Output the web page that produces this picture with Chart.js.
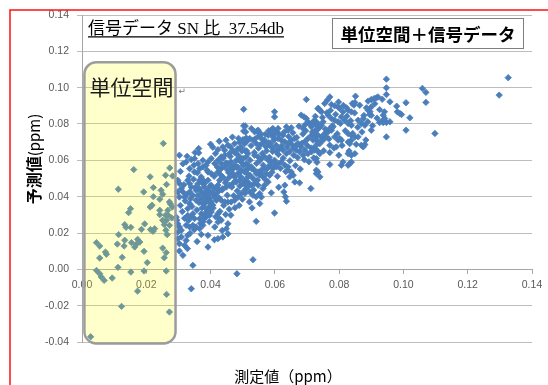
<!DOCTYPE html>
<html>
<head>
<meta charset="utf-8">
<script src="https://cdn.jsdelivr.net/npm/chart.js@4.4.0/dist/chart.umd.min.js"></script>
<style>
  html, body { margin: 0; padding: 0; background: #ffffff; overflow: hidden; }
  canvas { display: block; }
</style>
</head>
<body>
<canvas id="chart" width="548" height="385"></canvas>
<script>
// Axis ranges and tick step (ppm)
const xRange = [0, 0.14];
const yRange = [-0.04, 0.14];
const tickStep = 0.02;

// Texts
const chartTitle = '信号データ SN 比  37.54db';
const legendLabel = '単位空間＋信号データ';
const regionLabel = '単位空間';
const xAxisTitle = '測定値（ppm）';
const yAxisTitleMain = '予測値';
const yAxisTitleUnit = '(ppm)';

// Unit-space region (measured value range and predicted value range)
const unitSpaceX = [0.00075, 0.0291];
const unitSpaceY = [-0.0408, 0.1140];

// [measured, predicted] — unit space samples
const unitSpacePoints = [
  [0.0253,0.0693],[0.0161,0.0549],[0.0273,0.0558],[0.0282,0.0514],[0.0113,0.0441],[0.0212,0.0509],
  [0.0222,0.0450],[0.0263,0.0467],[0.0192,0.0426],[0.0222,0.0400],[0.0242,0.0386],[0.0275,0.0360],
  [0.0281,0.0343],[0.0151,0.0334],[0.0145,0.0312],[0.0212,0.0343],[0.0218,0.0353],[0.0242,0.0325],
  [0.0242,0.0301],[0.0268,0.0298],[0.0279,0.0283],[0.0263,0.0270],[0.0256,0.0246],[0.0272,0.0242],
  [0.0133,0.0246],[0.0137,0.0231],[0.0152,0.0231],[0.0195,0.0250],[0.0185,0.0220],[0.0221,0.0209],
  [0.0213,0.0219],[0.0261,0.0215],[0.0265,0.0191],[0.0114,0.0191],[0.0173,0.0165],[0.0180,0.0150],
  [0.0169,0.0138],[0.0164,0.0123],[0.0133,0.0160],[0.0131,0.0128],[0.0154,0.0147],[0.0110,0.0139],
  [0.0045,0.0147],[0.0055,0.0128],[0.0073,0.0095],[0.0076,0.0083],[0.0055,0.0062],[0.0125,0.0066],
  [0.0193,0.0099],[0.0251,0.0117],[0.0262,0.0092],[0.0256,0.0064],[0.0203,0.0037],[0.0112,0.0011],
  [0.0045,-0.0006],[0.0055,-0.0024],[0.0060,-0.0042],[0.0069,-0.0061],[0.0094,-0.0048],[0.0152,-0.0015],
  [0.0193,-0.0009],[0.0262,-0.0009],[0.0173,-0.0120],[0.0263,-0.0138],[0.0123,-0.0204],[0.0272,-0.0235],
  [0.0027,-0.0371],[0.0260,0.0518],[0.0246,0.0435],[0.0251,0.0413],[0.0272,0.0371],[0.0267,0.0325],
  [0.0260,0.0298],[0.0251,0.0270],[0.0226,0.0224]
];

// [measured, predicted] — signal samples
const signalPoints = [
  [0.0503,0.0881],[0.0503,0.0790],[0.0509,0.0756],[0.0511,0.0723],[0.0501,0.0714],[0.0400,0.0689],
  [0.0363,0.0665],[0.0363,0.0641],[0.0303,0.0628],[0.0423,0.0659],[0.0415,0.0637],[0.0438,0.0674],
  [0.0444,0.0655],[0.0454,0.0683],[0.0462,0.0674],[0.0469,0.0655],[0.0459,0.0637],[0.0444,0.0628],
  [0.0433,0.0619],[0.0480,0.0637],[0.0490,0.0619],[0.0501,0.0610],[0.0511,0.0619],[0.0516,0.0637],
  [0.0324,0.0591],[0.0340,0.0604],[0.0348,0.0573],[0.0335,0.0554],[0.0350,0.0536],[0.0366,0.0554],
  [0.0376,0.0564],[0.0386,0.0573],[0.0392,0.0536],[0.0402,0.0527],[0.0412,0.0518],[0.0423,0.0536],
  [0.0433,0.0554],[0.0444,0.0564],[0.0454,0.0582],[0.0464,0.0591],[0.0475,0.0573],[0.0485,0.0564],
  [0.0495,0.0545],[0.0506,0.0536],[0.0516,0.0554],[0.0298,0.0490],[0.0303,0.0472],[0.0309,0.0444],
  [0.0314,0.0426],[0.0298,0.0426],[0.0303,0.0398],[0.0319,0.0398],[0.0329,0.0490],[0.0335,0.0472],
  [0.0340,0.0453],[0.0335,0.0426],[0.0345,0.0407],[0.0355,0.0435],[0.0361,0.0472],[0.0366,0.0490],
  [0.0371,0.0508],[0.0376,0.0472],[0.0381,0.0453],[0.0386,0.0426],[0.0392,0.0407],[0.0386,0.0380],
  [0.0376,0.0362],[0.0381,0.0343],[0.0392,0.0325],[0.0371,0.0306],[0.0366,0.0279],[0.0376,0.0260],
  [0.0386,0.0288],[0.0397,0.0297],[0.0402,0.0316],[0.0418,0.0417],[0.0428,0.0435],[0.0438,0.0444],
  [0.0449,0.0453],[0.0459,0.0463],[0.0469,0.0472],[0.0480,0.0481],[0.0490,0.0490],[0.0501,0.0472],
  [0.0511,0.0463],[0.0506,0.0435],[0.0495,0.0417],[0.0485,0.0398],[0.0475,0.0380],[0.0464,0.0371],
  [0.0454,0.0371],[0.0444,0.0371],[0.0433,0.0380],[0.0423,0.0306],[0.0428,0.0279],[0.0423,0.0260],
  [0.0433,0.0270],[0.0335,0.0362],[0.0329,0.0334],[0.0329,0.0297],[0.0340,0.0288],[0.0345,0.0306],
  [0.0350,0.0279],[0.0303,0.0233],[0.0309,0.0215],[0.0298,0.0205],[0.0324,0.0242],[0.0335,0.0233],
  [0.0345,0.0242],[0.0355,0.0233],[0.0366,0.0224],[0.0376,0.0242],[0.0454,0.0251],[0.0449,0.0224],
  [0.0454,0.0196],[0.0438,0.0178],[0.0423,0.0169],[0.0412,0.0163],[0.0293,0.0288],[0.0295,0.0270],
  [0.0298,0.0251],[0.0329,0.0187],[0.0324,0.0159],[0.0319,0.0132],[0.0328,0.0114],[0.0314,0.0077],
  [0.0303,0.0141],[0.0298,0.0169],[0.0309,0.0178],[0.0392,0.0187],[0.0392,0.0123],[0.0345,0.0022],
  [0.0482,-0.0024],[0.0340,-0.0107],
  [0.0366,0.0444],[0.0376,0.0417],[0.0386,0.0398],[0.0397,0.0389],[0.0402,0.0371],[0.0407,0.0353],
  [0.0397,0.0344],[0.0381,0.0362],[0.0371,0.0389],[0.0361,0.0407],[0.0355,0.0380],[0.0412,0.0398],
  [0.0418,0.0380],[0.0407,0.0417],[0.0392,0.0435],[0.0381,0.0472],[0.0392,0.0490],[0.0402,0.0463],
  [0.0412,0.0444],[0.0423,0.0463],[0.0428,0.0490],[0.0438,0.0508],[0.0449,0.0490],[0.0459,0.0508],
  [0.0469,0.0527],[0.0475,0.0508],[0.0485,0.0527],[0.0495,0.0508],[0.0506,0.0490],[0.0516,0.0508],
  [0.0413,0.0582],[0.0423,0.0600],[0.0402,0.0610],[0.0392,0.0591],[0.0376,0.0600],[0.0361,0.0582],
  [0.0350,0.0610],[0.0433,0.0582],[0.0454,0.0545],[0.0464,0.0564],[0.0480,0.0600],[0.0495,0.0591],
  [0.0511,0.0582],[0.0506,0.0655],[0.0495,0.0674],[0.0485,0.0664],[0.0475,0.0692],[0.0490,0.0700],
  [0.0506,0.0692],
  [0.0698,0.0935],[0.0736,0.0885],[0.0599,0.0867],[0.0599,0.0839],[0.0682,0.0849],[0.0691,0.0839],
  [0.0698,0.0830],[0.0703,0.0812],[0.0693,0.0794],[0.0688,0.0775],[0.0636,0.0784],[0.0641,0.0766],
  [0.0651,0.0779],[0.0527,0.0775],[0.0537,0.0757],[0.0548,0.0766],[0.0553,0.0738],[0.0558,0.0720],
  [0.0568,0.0711],[0.0579,0.0738],[0.0589,0.0748],[0.0594,0.0729],[0.0605,0.0757],[0.0610,0.0720],
  [0.0620,0.0711],[0.0625,0.0738],[0.0631,0.0702],[0.0641,0.0693],[0.0651,0.0711],[0.0662,0.0720],
  [0.0667,0.0683],[0.0672,0.0693],[0.0682,0.0674],[0.0693,0.0702],[0.0703,0.0720],[0.0714,0.0738],
  [0.0719,0.0711],[0.0729,0.0729],[0.0734,0.0693],[0.0724,0.0665],[0.0714,0.0647],[0.0703,0.0637],
  [0.0693,0.0656],[0.0688,0.0628],[0.0677,0.0647],[0.0667,0.0656],[0.0657,0.0665],[0.0646,0.0647],
  [0.0636,0.0637],[0.0625,0.0656],[0.0615,0.0665],[0.0605,0.0647],[0.0594,0.0665],[0.0584,0.0683],
  [0.0573,0.0674],[0.0563,0.0693],[0.0553,0.0683],[0.0542,0.0693],[0.0532,0.0711],[0.0522,0.0720],
  [0.0511,0.0702],[0.0537,0.0628],[0.0548,0.0619],[0.0558,0.0610],[0.0568,0.0619],[0.0579,0.0601],
  [0.0589,0.0591],[0.0599,0.0601],[0.0610,0.0582],[0.0620,0.0591],[0.0631,0.0573],[0.0641,0.0564],
  [0.0605,0.0564],[0.0594,0.0555],[0.0584,0.0573],[0.0568,0.0555],[0.0558,0.0546],[0.0548,0.0536],
  [0.0537,0.0546],[0.0527,0.0564],[0.0516,0.0573],[0.0511,0.0546],[0.0522,0.0518],[0.0532,0.0500],
  [0.0542,0.0527],[0.0553,0.0518],[0.0563,0.0509],[0.0573,0.0527],[0.0584,0.0518],[0.0579,0.0481],
  [0.0568,0.0463],[0.0563,0.0445],[0.0548,0.0463],[0.0537,0.0472],[0.0527,0.0463],[0.0516,0.0481],
  [0.0511,0.0445],[0.0522,0.0426],[0.0532,0.0408],[0.0542,0.0399],[0.0553,0.0417],[0.0662,0.0481],
  [0.0677,0.0476],[0.0712,0.0445],[0.0729,0.0546],[0.0729,0.0527],[0.0631,0.0463],[0.0628,0.0426],
  [0.0633,0.0399],[0.0636,0.0375],[0.0521,0.0371],[0.0553,0.0362],[0.0599,0.0310],[0.0542,0.0264],
  [0.0532,0.0053],[0.0651,0.0536],[0.0646,0.0509],[0.0657,0.0518],[0.0641,0.0546],[0.0719,0.0812],
  [0.0729,0.0794],[0.0736,0.0775],[0.0714,0.0784],[0.0724,0.0757],[0.0594,0.0775],[0.0610,0.0775],
  [0.0487,0.0721],[0.0518,0.0715],[0.0544,0.0761],[0.0550,0.0733],[0.0570,0.0743],[0.0591,0.0770],
  [0.0600,0.0743],[0.0581,0.0697],[0.0508,0.0789],[0.0503,0.0761],
  [0.0947,0.1047],[0.0947,0.0999],[0.0947,0.0962],[0.0851,0.0953],[0.0849,0.0918],[0.0846,0.0904],
  [0.0771,0.0949],[0.0763,0.0931],[0.0755,0.0913],[0.0890,0.0926],[0.0900,0.0935],[0.0909,0.0940],
  [0.0916,0.0944],[0.0921,0.0949],[0.0776,0.0907],[0.0786,0.0900],[0.0797,0.0893],[0.0802,0.0885],
  [0.0734,0.0885],[0.0740,0.0876],[0.0745,0.0867],[0.0823,0.0889],[0.0828,0.0876],[0.0838,0.0867],
  [0.0812,0.0867],[0.0885,0.0889],[0.0890,0.0876],[0.0895,0.0852],[0.0900,0.0848],[0.0937,0.0848],
  [0.0942,0.0830],[0.0937,0.0821],[0.0926,0.0808],[0.0937,0.0808],[0.0947,0.0808],[0.0900,0.0766],
  [0.0947,0.0729],[0.0724,0.0821],[0.0734,0.0803],[0.0745,0.0793],[0.0750,0.0812],[0.0740,0.0784],
  [0.0729,0.0766],[0.0766,0.0848],[0.0776,0.0830],[0.0786,0.0821],[0.0797,0.0812],[0.0807,0.0839],
  [0.0817,0.0821],[0.0828,0.0803],[0.0838,0.0793],[0.0859,0.0821],[0.0869,0.0803],[0.0875,0.0830],
  [0.0880,0.0793],[0.0724,0.0757],[0.0734,0.0738],[0.0745,0.0729],[0.0755,0.0747],[0.0766,0.0757],
  [0.0776,0.0766],[0.0781,0.0784],[0.0771,0.0775],[0.0760,0.0729],[0.0729,0.0711],[0.0740,0.0692],
  [0.0724,0.0674],[0.0750,0.0711],[0.0786,0.0729],[0.0797,0.0711],[0.0802,0.0720],[0.0807,0.0711],
  [0.0828,0.0701],[0.0833,0.0692],[0.0838,0.0711],[0.0828,0.0747],[0.0838,0.0738],[0.0849,0.0729],
  [0.0771,0.0683],[0.0791,0.0674],[0.0724,0.0656],[0.0734,0.0650],[0.0740,0.0637],[0.0729,0.0610],
  [0.0859,0.0729],[0.0869,0.0683],[0.0875,0.0674],[0.0880,0.0687],[0.0849,0.0637],[0.0838,0.0628],
  [0.0828,0.0637],[0.0771,0.0643],[0.0799,0.0628],[0.0833,0.0582],[0.0838,0.0591],[0.0828,0.0573],
  [0.0812,0.0591],[0.0807,0.0573],[0.0771,0.0577],[0.0734,0.0536],[0.0740,0.0509],[0.0900,0.0894],
  [0.0841,0.0913],
  [0.1326,0.1055],[0.1298,0.0959],[0.1059,0.0996],[0.1070,0.0974],[0.1070,0.0919],[0.1008,0.0917],
  [0.0958,0.0922],[0.0979,0.0898],[0.0981,0.0867],[0.0989,0.0858],[0.0994,0.0852],[0.1020,0.0834],
  [0.0958,0.0812],[0.1008,0.0766],[0.1098,0.0748],
  [0.0306,0.0352],[0.0312,0.0318],[0.0317,0.0466],[0.0321,0.0377],[0.0326,0.0412],[0.0331,0.0268],
  [0.0333,0.0513],[0.0338,0.0389],[0.0342,0.0346],[0.0347,0.0496],[0.0349,0.0218],[0.0353,0.0452],
  [0.0357,0.0327],[0.0359,0.0531],[0.0364,0.0368],[0.0368,0.0253],[0.0369,0.0431],[0.0373,0.0338],
  [0.0378,0.0489],[0.0379,0.0297],[0.0383,0.0411],[0.0387,0.0316],[0.0389,0.0546],[0.0394,0.0371],
  [0.0396,0.0262],[0.0399,0.0458],[0.0314,0.0581],[0.0327,0.0622],[0.0352,0.0643],[0.0306,0.0539],
  [0.0319,0.0281],[0.0336,0.0198],[0.0371,0.0192],[0.0358,0.0153],[0.0303,0.0101],[0.0381,0.0281],
  [0.0404,0.0423],[0.0408,0.0337],[0.0411,0.0512],[0.0416,0.0289],[0.0419,0.0448],[0.0421,0.0563],
  [0.0426,0.0394],[0.0429,0.0319],[0.0431,0.0521],[0.0436,0.0437],[0.0439,0.0612],[0.0441,0.0352],
  [0.0446,0.0477],[0.0448,0.0586],[0.0452,0.0408],[0.0456,0.0533],[0.0458,0.0331],[0.0461,0.0621],
  [0.0466,0.0453],[0.0468,0.0549],[0.0472,0.0405],[0.0474,0.0644],[0.0478,0.0488],[0.0481,0.0561],
  [0.0483,0.0432],[0.0487,0.0603],[0.0491,0.0459],[0.0493,0.0537],[0.0497,0.0651],[0.0499,0.0386],
  [0.0413,0.0233],[0.0436,0.0214],[0.0447,0.0302],[0.0463,0.0298],[0.0476,0.0339],[0.0489,0.0352],
  [0.0407,0.0672],[0.0427,0.0705],[0.0448,0.0711],[0.0468,0.0728],
  [0.0502,0.0571],[0.0507,0.0418],[0.0512,0.0652],[0.0514,0.0527],[0.0519,0.0461],[0.0523,0.0601],
  [0.0526,0.0681],[0.0529,0.0552],[0.0534,0.0437],[0.0536,0.0643],[0.0539,0.0719],[0.0543,0.0583],
  [0.0546,0.0491],[0.0549,0.0667],[0.0552,0.0596],[0.0555,0.0748],[0.0557,0.0532],[0.0561,0.0638],
  [0.0564,0.0573],[0.0566,0.0702],[0.0571,0.0493],[0.0574,0.0652],[0.0577,0.0556],[0.0581,0.0763],
  [0.0583,0.0617],[0.0586,0.0693],[0.0591,0.0534],[0.0593,0.0649],[0.0597,0.0712],[0.0601,0.0578],
  [0.0604,0.0683],[0.0608,0.0512],[0.0611,0.0632],[0.0614,0.0744],[0.0617,0.0556],[0.0529,0.0338],
  [0.0558,0.0398],[0.0589,0.0421],[0.0612,0.0452],
  [0.0622,0.0681],[0.0626,0.0612],[0.0629,0.0755],[0.0634,0.0538],[0.0638,0.0672],[0.0643,0.0731],
  [0.0647,0.0598],[0.0652,0.0689],[0.0656,0.0752],[0.0659,0.0628],[0.0664,0.0571],[0.0668,0.0726],
  [0.0671,0.0615],[0.0675,0.0788],[0.0679,0.0552],[0.0684,0.0694],[0.0687,0.0745],[0.0692,0.0603],
  [0.0696,0.0763],[0.0701,0.0681],[0.0706,0.0592],[0.0709,0.0799],[0.0713,0.0668],[0.0717,0.0756],
  [0.0721,0.0613],[0.0726,0.0842],[0.0731,0.0589],[0.0737,0.0781],[0.0741,0.0704],[0.0748,0.0836],
  [0.0752,0.0653],[0.0757,0.0772],[0.0762,0.0862],[0.0768,0.0718],[0.0773,0.0875],[0.0779,0.0791],
  [0.0784,0.0668],[0.0789,0.0853],[0.0794,0.0746],[0.0798,0.0921],
  [0.0804,0.0803],[0.0809,0.0682],[0.0813,0.0902],[0.0819,0.0763],[0.0824,0.0843],[0.0831,0.0651],
  [0.0836,0.0818],[0.0842,0.0748],[0.0848,0.0861],[0.0853,0.0688],[0.0858,0.0782],[0.0864,0.0903],
  [0.0871,0.0756],[0.0877,0.0847],[0.0883,0.0712],[0.0889,0.0812],[0.0896,0.0868],[0.0904,0.0791],
  [0.0911,0.0912],[0.0918,0.0832],[0.0926,0.0879],[0.0934,0.0936],[0.0941,0.0867]
];

const pointColor = '#4a7ebb';
const tickFont = { family: "'Liberation Sans', Arial, sans-serif", size: 10.5 };
const fmt = v => (Math.abs(v) < 1e-9 ? 0 : v).toFixed(2);
const toXY = arr => arr.map(([x, y]) => ({ x, y }));

const markerStyle = {
  pointStyle: 'rectRot',
  pointRadius: 3.2,
  pointBorderWidth: 0.8,
  backgroundColor: pointColor,
  borderColor: pointColor,
  showLine: false
};

function roundRect(ctx, x, y, w, h, r) {
  ctx.beginPath();
  ctx.moveTo(x + r, y);
  ctx.lineTo(x + w - r, y);
  ctx.arcTo(x + w, y, x + w, y + r, r);
  ctx.lineTo(x + w, y + h - r);
  ctx.arcTo(x + w, y + h, x + w - r, y + h, r);
  ctx.lineTo(x + r, y + h);
  ctx.arcTo(x, y + h, x, y + h - r, r);
  ctx.lineTo(x, y + r);
  ctx.arcTo(x, y, x + r, y, r);
  ctx.closePath();
}

const decorations = {
  id: 'decorations',
  afterDatasetsDraw(chart) {
    // translucent unit-space band over the markers
    const { ctx, scales: { x, y } } = chart;
    const x0 = x.getPixelForValue(unitSpaceX[0]);
    const x1 = x.getPixelForValue(unitSpaceX[1]);
    const y0 = y.getPixelForValue(unitSpaceY[1]);
    const y1 = y.getPixelForValue(unitSpaceY[0]);
    ctx.save();
    roundRect(ctx, x0, y0, x1 - x0, y1 - y0, 12);
    ctx.fillStyle = 'rgba(255, 255, 0, 0.2)';
    ctx.fill();
    ctx.lineWidth = 2.5;
    ctx.strokeStyle = '#9c9c9c';
    ctx.stroke();
    ctx.fillStyle = '#1a1a1a';
    ctx.font = "21px 'Noto Sans CJK JP', sans-serif";
    ctx.textBaseline = 'middle';
    ctx.textAlign = 'left';
    ctx.fillText(regionLabel, x0 + 5, y0 + 25);
    ctx.fillStyle = '#777777';
    ctx.font = "9px 'DejaVu Sans', sans-serif";
    ctx.fillText('↵', x1 + 3, y0 + 29);
    ctx.restore();
  },
  afterDraw(chart) {
    const { ctx } = chart;
    ctx.save();

    // page frame
    ctx.strokeStyle = '#ff1010';
    ctx.lineWidth = 1.5;
    ctx.beginPath();
    ctx.moveTo(10, 385);
    ctx.lineTo(10, 10);
    ctx.lineTo(548, 10);
    ctx.stroke();

    // underlined title
    ctx.fillStyle = '#000000';
    ctx.font = "17px 'Liberation Serif', 'Noto Sans CJK JP', serif";
    ctx.textAlign = 'left';
    ctx.textBaseline = 'alphabetic';
    ctx.fillText(chartTitle, 88, 34);
    const tw = ctx.measureText(chartTitle).width;
    ctx.lineWidth = 1.2;
    ctx.strokeStyle = '#000000';
    ctx.beginPath();
    ctx.moveTo(88, 36.8);
    ctx.lineTo(88 + tw, 36.8);
    ctx.stroke();

    // framed label
    ctx.fillStyle = '#ffffff';
    ctx.fillRect(332, 18, 191, 30);
    ctx.strokeStyle = '#7f7f7f';
    ctx.lineWidth = 1;
    ctx.strokeRect(332.5, 18.5, 191, 30);
    ctx.fillStyle = '#000000';
    ctx.font = "bold 17.5px 'Noto Sans CJK JP', sans-serif";
    ctx.textAlign = 'center';
    ctx.textBaseline = 'middle';
    ctx.fillText(legendLabel, 428, 34);

    // x axis title
    ctx.font = "15px 'Noto Sans CJK JP', sans-serif";
    ctx.fillText(xAxisTitle, 288, 376);

    // y axis title (rotated)
    ctx.translate(34, 159);
    ctx.rotate(-Math.PI / 2);
    ctx.font = "bold 16px 'Noto Sans CJK JP', sans-serif";
    const w1 = ctx.measureText(yAxisTitleMain).width;
    ctx.font = "15px 'Noto Sans CJK JP', sans-serif";
    const w2 = ctx.measureText(yAxisTitleUnit).width;
    const start = -(w1 + w2) / 2;
    ctx.textAlign = 'left';
    ctx.font = "bold 16px 'Noto Sans CJK JP', sans-serif";
    ctx.fillText(yAxisTitleMain, start, 0);
    ctx.font = "15px 'Noto Sans CJK JP', sans-serif";
    ctx.fillText(yAxisTitleUnit, start + w1, 0);
    ctx.restore();
  }
};

new Chart(document.getElementById('chart').getContext('2d'), {
  type: 'scatter',
  data: {
    datasets: [
      Object.assign({ label: 'unit space', data: toXY(unitSpacePoints) }, markerStyle),
      Object.assign({ label: 'signal', data: toXY(signalPoints) }, markerStyle)
    ]
  },
  options: {
    responsive: false,
    animation: false,
    devicePixelRatio: 1,
    events: [],
    layout: { padding: { top: 15, right: 16, bottom: 43, left: 0 } },
    plugins: {
      legend: { display: false },
      tooltip: { enabled: false },
      title: { display: false }
    },
    scales: {
      x: {
        type: 'linear',
        position: { y: 0 },
        min: xRange[0],
        max: xRange[1],
        ticks: {
          stepSize: tickStep,
          callback: fmt,
          color: '#595959',
          font: tickFont,
          padding: 5,
          maxRotation: 0,
          autoSkip: false
        },
        grid: { drawOnChartArea: false, drawTicks: true, tickLength: 4, color: '#a6a6a6' },
        border: { display: true, color: '#a6a6a6', width: 1 }
      },
      y: {
        type: 'linear',
        min: yRange[0],
        max: yRange[1],
        ticks: {
          stepSize: tickStep,
          callback: fmt,
          color: '#595959',
          font: tickFont,
          padding: 8
        },
        grid: { color: '#bdbdbd', lineWidth: 1, drawTicks: true, tickLength: 5 },
        border: { display: true, color: '#a6a6a6', width: 1 },
        afterFit(scale) { scale.width = 82; }
      }
    }
  },
  plugins: [decorations]
});
</script>
</body>
</html>
